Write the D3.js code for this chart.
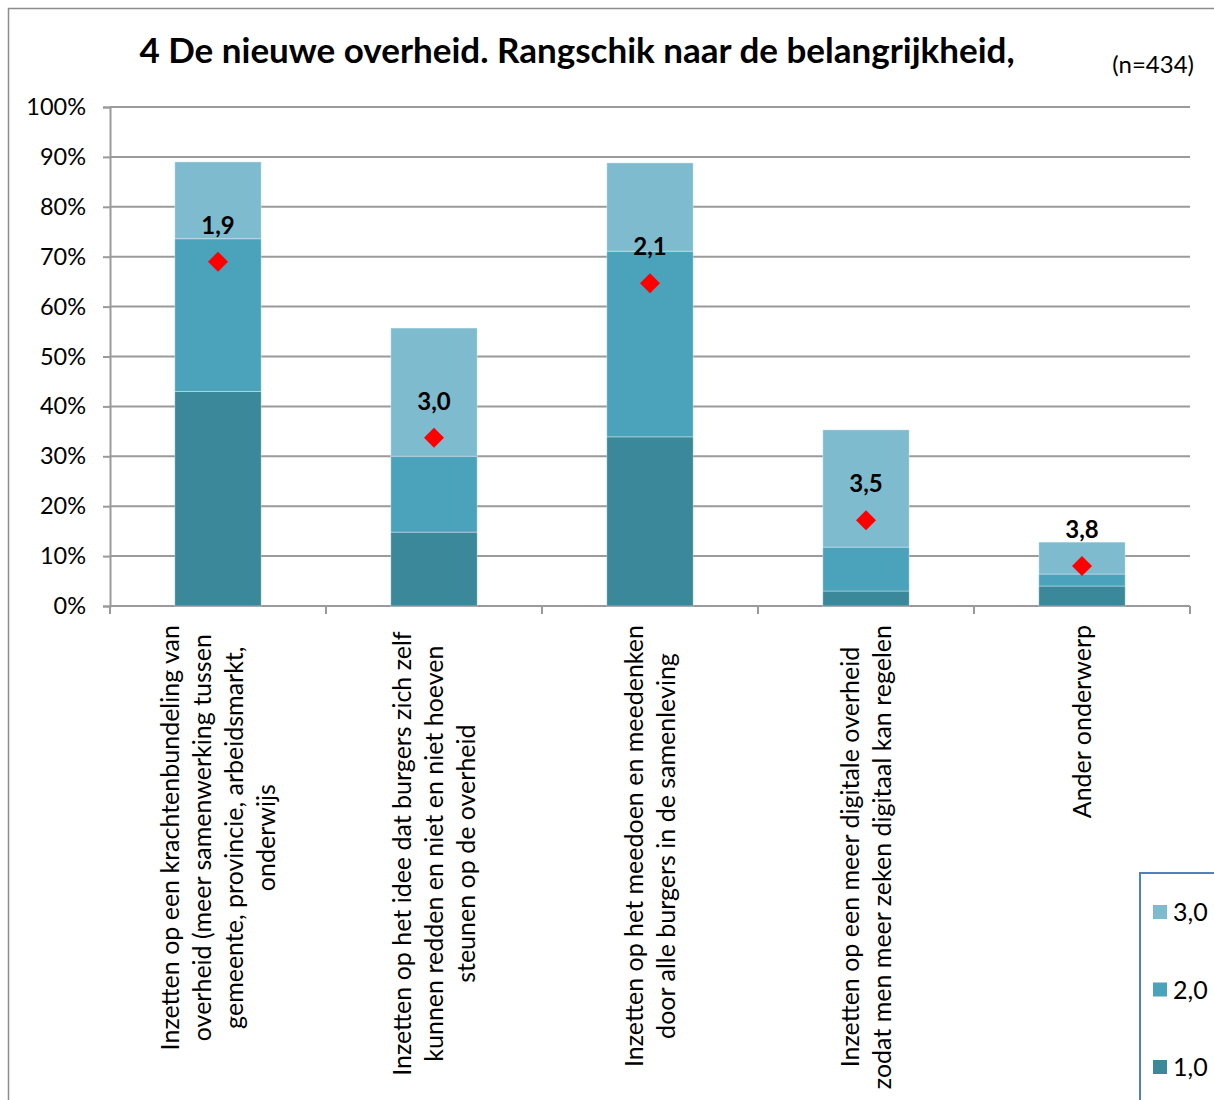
<!DOCTYPE html>
<html>
<head>
<meta charset="utf-8">
<script src="https://cdn.jsdelivr.net/npm/d3@7"></script>
<style>
  body { margin: 0; background: #fff; }
  svg { font-family: Lato, "Open Sans", sans-serif; }
</style>
</head>
<body>
<svg id="chart" width="1214" height="1100"></svg>
<script>
// chart data
var categories = [
  ["Inzetten op een krachtenbundeling van", "overheid (meer samenwerking tussen", "gemeente, provincie, arbeidsmarkt,", "onderwijs"],
  ["Inzetten op het idee dat burgers zich zelf", "kunnen redden en niet en niet hoeven", "steunen op de overheid"],
  ["Inzetten op het meedoen en meedenken", "door alle burgers in de samenleving"],
  ["Inzetten op een meer digitale overheid", "zodat men meer zeken digitaal kan regelen"],
  ["Ander onderwerp"]
];
var rank1 = [43.0, 14.8, 33.9, 3.0, 4.0];
var rank2 = [30.6, 15.2, 37.2, 8.8, 2.4];
var rank3 = [15.4, 25.7, 17.7, 23.5, 6.4];
var means = [69.0, 33.7, 64.7, 17.2, 8.0];
var meanLabels = ["1,9", "3,0", "2,1", "3,5", "3,8"];
var seriesNames = ["1,0", "2,0", "3,0"];
var seriesColors = ["#3b889b", "#4aa3bb", "#7fbbcf"];
var yTicks = [0, 10, 20, 30, 40, 50, 60, 70, 80, 90, 100];

var svg = d3.select('#chart');

// frame
svg.append('rect')
  .attr('x', 8.5).attr('y', 8.5)
  .attr('width', 1230).attr('height', 1120)
  .attr('fill', 'none').attr('stroke', '#8c8c8c').attr('stroke-width', 1.5);

var x = d3.scaleBand()
  .domain(d3.range(categories.length))
  .range([110, 1190])
  .paddingInner(0.6).paddingOuter(0.3);

var y = d3.scaleLinear().domain([0, 100]).range([606, 107]);

// gridlines
svg.append('g').selectAll('line.grid')
  .data(yTicks)
  .enter()
    .append('line')
    .attr('x1', 110).attr('x2', 1190)
    .attr('y1', function(d) { return y(d); })
    .attr('y2', function(d) { return y(d); })
    .attr('stroke', '#9a9a9a').attr('stroke-width', 2);

// y axis
var yAxis = svg.append('g')
  .attr('transform', 'translate(110,0)')
  .call(d3.axisLeft(y).tickValues(yTicks).tickSize(7).tickPadding(17)
    .tickFormat(function(d) { return d + '%'; }));
yAxis.select('.domain').attr('stroke', '#9a9a9a').attr('stroke-width', 2);
yAxis.selectAll('.tick line').attr('stroke', '#9a9a9a').attr('stroke-width', 2);
yAxis.selectAll('.tick text').attr('font-size', 23.5).attr('fill', '#000')
  .attr('font-family', 'Lato, sans-serif');

// x axis line and ticks between categories
var xTickPos = d3.range(categories.length + 1).map(function(i) { return 110 + i * x.step(); });
svg.append('line')
  .attr('x1', 110).attr('x2', 1190).attr('y1', 606).attr('y2', 606)
  .attr('stroke', '#9a9a9a').attr('stroke-width', 2);
svg.append('g').selectAll('line.xtick')
  .data(xTickPos)
  .enter()
    .append('line')
    .attr('x1', function(d) { return d; })
    .attr('x2', function(d) { return d; })
    .attr('y1', 606).attr('y2', 614)
    .attr('stroke', '#9a9a9a').attr('stroke-width', 2);

// stacked bars
var table = categories.map(function(c, i) {
  return { i: i, r1: rank1[i], r2: rank2[i], r3: rank3[i] };
});
var stack = d3.stack().keys(['r1', 'r2', 'r3'])(table);

svg.append('g').selectAll('g.series')
  .data(stack)
  .enter()
    .append('g')
    .attr('fill', function(d, k) { return seriesColors[k]; })
  .selectAll('rect')
  .data(function(d) { return d; })
  .enter()
    .append('rect')
    .attr('x', function(d) { return x(d.data.i); })
    .attr('width', x.bandwidth())
    .attr('y', function(d) { return y(d[1]); })
    .attr('height', function(d) { return y(d[0]) - y(d[1]); })
    .attr('stroke', 'rgba(255,255,255,0.35)').attr('stroke-width', 1);

// mean markers
svg.append('g').selectAll('path.mean')
  .data(means)
  .enter()
    .append('path')
    .attr('d', 'M0,-10L10,0L0,10L-10,0Z')
    .attr('fill', '#ff0000')
    .attr('transform', function(d, i) {
      return 'translate(' + (x(i) + x.bandwidth() / 2) + ',' + y(d) + ')';
    });

svg.append('g').selectAll('text.meanlabel')
  .data(means)
  .enter()
    .append('text')
    .attr('x', function(d, i) { return x(i) + x.bandwidth() / 2; })
    .attr('y', function(d) { return y(d) - 28; })
    .attr('text-anchor', 'middle')
    .attr('font-size', 24).attr('font-weight', 'bold')
    .text(function(d, i) { return meanLabels[i]; });

// category labels, rotated
var labelGroups = svg.append('g').selectAll('text.cat')
  .data(categories)
  .enter()
    .append('text')
    .attr('font-size', 25)
    .attr('text-anchor', 'middle');

labelGroups.each(function(lines, i) {
  var t = d3.select(this);
  var cx = x(i) + x.bandwidth() / 2;
  var n = lines.length;
  lines.forEach(function(line, j) {
    t.append('tspan').text(line)
      .attr('data-base', cx - (n - 1) * 32 / 2 + j * 32 + 9);
  });
  var longest = d3.max(t.selectAll('tspan').nodes(), function(n) { return n.getComputedTextLength(); });
  var mid = 625 + longest / 2;
  t.selectAll('tspan')
    .attr('x', -mid)
    .attr('y', function() { return +this.getAttribute('data-base'); });
  t.attr('transform', 'rotate(-90)');
});

// title
svg.append('text')
  .attr('x', 577).attr('y', 63)
  .attr('text-anchor', 'middle')
  .attr('font-size', 35).attr('font-weight', 'bold')
  .text('4 De nieuwe overheid. Rangschik naar de belangrijkheid,');

svg.append('text')
  .attr('x', 1194).attr('y', 73)
  .attr('text-anchor', 'end')
  .attr('font-size', 24)
  .text('(n=434)');

// legend
var legend = svg.append('g');
legend.append('rect')
  .attr('x', 1140).attr('y', 873)
  .attr('width', 100).attr('height', 260)
  .attr('fill', '#fff').attr('stroke', '#4f81bd').attr('stroke-width', 2);

var legendItems = legend.selectAll('g.item')
  .data([2, 1, 0])
  .enter()
    .append('g')
    .attr('transform', function(d, i) { return 'translate(1153,' + (912 + i * 77.5) + ')'; });
legendItems.append('rect')
  .attr('x', 0).attr('y', -7).attr('width', 14).attr('height', 14)
  .attr('fill', function(d) { return seriesColors[d]; });
legendItems.append('text')
  .attr('x', 20).attr('y', 9)
  .attr('font-size', 25)
  .text(function(d) { return seriesNames[d]; });
</script>
</body>
</html>
